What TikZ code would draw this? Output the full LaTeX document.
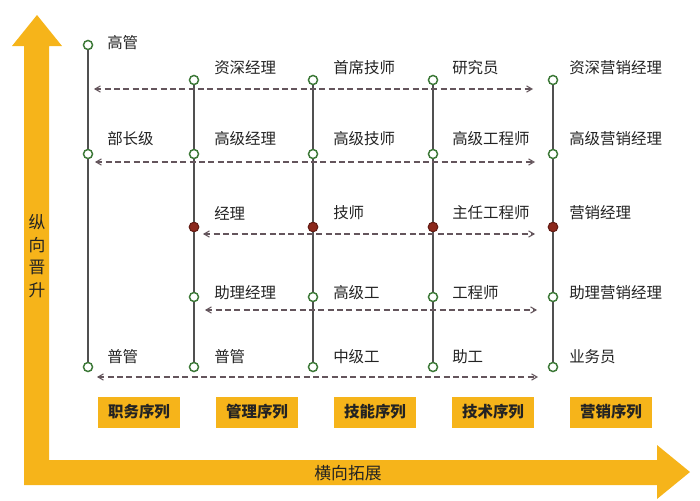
\documentclass[tikz,border=0pt]{standalone}
\usepackage{fontspec}
\newfontfamily\cjk{Noto Sans CJK SC}
\usetikzlibrary{calc}
\usetikzlibrary{arrows}
\definecolor{barorange}{RGB}{246,180,26}
\definecolor{ringgreen}{RGB}{60,120,55}
\definecolor{dotred}{RGB}{140,40,28}
\definecolor{stemgray}{RGB}{80,80,80}
\definecolor{linkgray}{RGB}{100,85,92}
\definecolor{txt}{RGB}{35,35,35}

\begin{document}
\begin{tikzpicture}[x=0.75pt,y=-0.75pt,
    hollow/.style={circle,draw=ringgreen,fill=white,line width=1.1pt,inner sep=0pt,minimum size=6.8pt},
    filleddot/.style={circle,draw=dotred!70!black,fill=dotred,line width=0.8pt,inner sep=0pt,minimum size=7.2pt},
    stem/.style={stemgray,line width=0.9pt},
    link/.style={linkgray,line width=0.8pt,dash pattern=on 4.5pt off 2.5pt,{angle 60}-{angle 60}},
    lbl/.style={anchor=west,inner sep=0pt,text=txt,font=\cjk\fontsize{11.6}{14}\selectfont},
    seqbox/.style={fill=barorange,inner sep=0pt,minimum width=61.5pt,minimum height=23.25pt,
      text=txt,font=\cjk\bfseries\fontsize{11.6}{14}\selectfont},
    axislbl/.style={inner sep=0pt,text=txt,align=center,font=\cjk\fontsize{12.6}{16.9}\selectfont}]
  \useasboundingbox (0,0) rectangle (700,500);

  % the two axes
  \fill[barorange] (24,485) -- (24,46) -- (12,46) -- (37,15) -- (62,46) -- (49,46)
    -- (49,460) -- (657,460) -- (657,445) -- (690,472) -- (657,499) -- (657,485) -- cycle;
  \node[axislbl] (up) at (37,256) {纵\\向\\晋\\升};
  \node[axislbl] (side) at (348,473) {横向拓展};

  % grades
  \node[hollow] (T1) at (88,45) {};
  \foreach \c/\x in {1/88,2/194,3/313,4/433,5/553} {
    \node[hollow] (B\c) at (\x,154) {};
    \node[hollow] (E\c) at (\x,367) {};
  }
  \foreach \c/\x in {2/194,3/313,4/433,5/553} {
    \node[hollow] (A\c) at (\x,80) {};
    \node[filleddot] (C\c) at (\x,227) {};
    \node[hollow] (D\c) at (\x,297) {};
  }
  \draw[stem] (T1) -- (B1) -- (E1);
  \foreach \c in {2,...,5}
    \draw[stem] (A\c) -- (B\c) -- (C\c) -- (D\c) -- (E\c);

  % titles
  \node[lbl] (tT1) at (107,43) {高管};
  \node[lbl] (tB1) at (107,139) {部长级};
  \node[lbl] (tE1) at (107,357) {普管};
  \foreach \c/\x/\a/\b/\m/\d/\e in {
      2/214/资深经理/高级经理/经理/助理经理/普管,
      3/333/首席技师/高级技师/技师/高级工/中级工,
      4/452/研究员/高级工程师/主任工程师/工程师/助工,
      5/569/资深营销经理/高级营销经理/营销经理/助理营销经理/业务员} {
    \node[lbl] (tA\c) at (\x,68) {\a};
    \node[lbl] (tB\c) at (\x,139) {\b};
    \node[lbl] (tC\c) at (\x,213) {\m};
    \node[lbl] (tD\c) at (\x,293) {\d};
    \node[lbl] (tE\c) at (\x,357) {\e};
  }

  % lateral moves
  \draw[link] ($(B1|-A2)+(6,9)$) -- ($(A5)+(-20,9)$);
  \draw[link] ($(B1)+(7,8)$) -- ($(B5)+(-18,8)$);
  \draw[link] ($(C2)+(9,7)$) -- ($(C5)+(-18,7)$);
  \draw[link] ($(D2)+(11,13)$) -- ($(D5)+(-16,13)$);
  \draw[link] ($(E1)+(9,10)$) -- ($(E5)+(-15,10)$);

  % sequences
  \foreach \c/\x/\t in {1/139/职务序列,2/257/管理序列,3/375/技能序列,4/493/技术序列,5/611/营销序列}
    \node[seqbox] (S\c) at (\x,412) {\t};
\end{tikzpicture}
\end{document}
